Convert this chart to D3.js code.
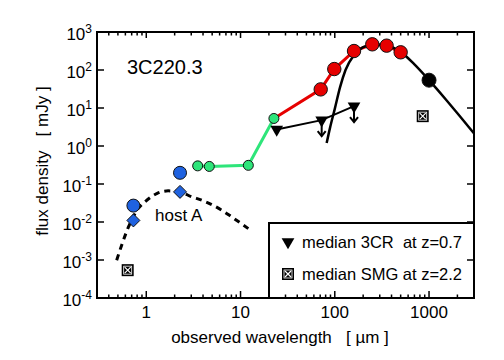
<!DOCTYPE html>
<html>
<head>
<meta charset="utf-8">
<script src="https://cdn.jsdelivr.net/npm/d3@7"></script>
<style>
  body { margin:0; background:#fff; }
  svg { display:block; font-family:"Liberation Sans", Arial, sans-serif; }
</style>
</head>
<body>
<div id="chart"></div>
<script>
// photometry of 3C220.3 (wavelength in um, flux in mJy)
const blueCircX = [0.73, 2.28];
const blueCircY = [0.027, 0.197];
const blueDiaX = [0.73, 2.28];
const blueDiaY = [0.011, 0.062];
const greenX = [3.51, 4.66, 12.1, 22.6];
const greenY = [0.30, 0.29, 0.31, 5.3];
const redX = [22.6, 70.9, 98.8, 160, 250, 355, 500];
const redY = [5.3, 30.9, 106, 316, 474, 437, 292];
const blackX = [1000];
const blackY = [54];
// host A template
const hostX = [0.485, 0.548, 0.644, 0.822, 0.97, 1.29, 1.71, 2.28, 3.03, 3.87, 6.31, 8.06, 12.1];
const hostY = [9.9e-4, 2.45e-3, 7.2e-3, 0.0227, 0.034, 0.056, 0.066, 0.062, 0.046, 0.0375, 0.0205, 0.0136, 6.7e-3];
// dust fit
const dustX = [82, 89, 100, 114, 130, 160, 200, 260, 350, 500, 700, 1000, 1500, 2000, 3000];
const dustY = [1.2, 3.0, 9.5, 36, 100, 250, 400, 470, 440, 300, 140, 54, 17, 7.3, 2.14];
// median 3CR at z=0.7 (upper limits)
const cr3X = [24.2, 72.6, 160];
const cr3Y = [2.73, 4.8, 11.2];
// median SMG at z=2.2
const smgX = [0.635, 857];
const smgY = [5.4e-4, 6.1];

const xTicks = [1, 10, 100, 1000];
const yTickExp = [-4, -3, -2, -1, 0, 1, 2, 3];

const W = 504, H = 360;
const L = 97, R = 474, T = 32, B = 298;

const svg = d3.select("#chart").append("svg")
  .attr("width", W).attr("height", H);

const x = d3.scaleLog().domain([0.3, 3000]).range([L, R]);
const y = d3.scaleLog().domain([1e-4, 1e3]).range([B, T]);

const pts = (xs, ys) => xs.map((v, i) => [x(v), y(ys[i])]);
const line = d3.line().curve(d3.curveMonotoneX);
const straight = d3.line();

// axes: ticks inward on all four sides
const minor = [];
[0.1, 1, 10, 100, 1000].forEach(d => {
  for (let k = 2; k <= 9; k++) { const v = d * k; if (v > 0.3 && v < 3000) minor.push(v); }
});
const ax = svg.append("g").attr("stroke", "#000").attr("stroke-width", 1.5);
minor.forEach(v => {
  ax.append("line").attr("x1", x(v)).attr("x2", x(v)).attr("y1", B).attr("y2", B - 3.5);
  ax.append("line").attr("x1", x(v)).attr("x2", x(v)).attr("y1", T).attr("y2", T + 3.5);
});
xTicks.forEach(v => {
  ax.append("line").attr("x1", x(v)).attr("x2", x(v)).attr("y1", B).attr("y2", B - 7);
  ax.append("line").attr("x1", x(v)).attr("x2", x(v)).attr("y1", T).attr("y2", T + 6);
});
yTickExp.forEach(e => {
  const yy = y(Math.pow(10, e));
  ax.append("line").attr("x1", L).attr("x2", L + 7).attr("y1", yy).attr("y2", yy);
  ax.append("line").attr("x1", R).attr("x2", R - 7).attr("y1", yy).attr("y2", yy);
});

// tick labels
svg.append("g").selectAll("text").data(xTicks).enter().append("text")
  .attr("x", d => x(d)).attr("y", 318)
  .attr("text-anchor", "middle").attr("font-size", 17)
  .text(d => d);

const yl = svg.append("g").selectAll("text").data(yTickExp).enter().append("text")
  .attr("x", 92).attr("y", d => y(Math.pow(10, d)) + 8)
  .attr("text-anchor", "end").attr("font-size", 17);
yl.append("tspan").text("10");
yl.append("tspan").attr("dy", -7).attr("font-size", 12).text(d => d < 0 ? "-" + (-d) : d);

// axis titles
svg.append("text").attr("x", 280).attr("y", 343)
  .attr("text-anchor", "middle").attr("font-size", 17)
  .attr("xml:space", "preserve")
  .text("observed wavelength   [ \u00b5m ]");
svg.append("text")
  .attr("transform", "translate(48,161) rotate(-90)")
  .attr("text-anchor", "middle").attr("font-size", 17)
  .attr("xml:space", "preserve")
  .text("flux density   [ mJy ]");

// connecting lines
svg.append("path").attr("d", straight(pts(greenX, greenY)))
  .attr("fill", "none").attr("stroke", "#2ee57a").attr("stroke-width", 3);
svg.append("path").attr("d", straight(pts(redX, redY)))
  .attr("fill", "none").attr("stroke", "#e60000").attr("stroke-width", 3);

// host A template (dashed)
svg.append("path").attr("d", line(pts(hostX, hostY)))
  .attr("fill", "none").attr("stroke", "#000").attr("stroke-width", 3)
  .attr("stroke-dasharray", "6,5");

// dust curve
svg.append("path").attr("d", line(pts(dustX, dustY)))
  .attr("fill", "none").attr("stroke", "#000").attr("stroke-width", 2.5);

// 3CR median: line + triangles + down arrows
svg.append("path").attr("d", straight(pts(cr3X, cr3Y)))
  .attr("fill", "none").attr("stroke", "#000").attr("stroke-width", 2);
const tri = d3.symbol().type(d3.symbolTriangle).size(70);
const cr3 = pts(cr3X, cr3Y);
cr3.forEach(([px, py], i) => {
  svg.append("path").attr("d", tri())
    .attr("transform", `translate(${px},${py}) rotate(180)`).attr("fill", "#000");
  if (i > 0) {
    svg.append("line").attr("x1", px).attr("x2", px).attr("y1", py).attr("y2", py + 16)
      .attr("stroke", "#000").attr("stroke-width", 2);
    svg.append("path").attr("d", `M${px - 4},${py + 11}L${px},${py + 16}L${px + 4},${py + 11}`)
      .attr("fill", "none").attr("stroke", "#000").attr("stroke-width", 2);
  }
});

// boxed cross marker
function boxX(g, px, py) {
  g.append("rect").attr("x", px - 6).attr("y", py - 6).attr("width", 12).attr("height", 12).attr("fill", "#000");
  g.append("rect").attr("x", px - 4).attr("y", py - 4).attr("width", 8).attr("height", 8)
    .attr("fill", "none").attr("stroke", "#fff").attr("stroke-width", 0.8);
  g.append("path").attr("d", `M${px - 3},${py - 3}L${px + 3},${py + 3}M${px + 3},${py - 3}L${px - 3},${py + 3}`)
    .attr("stroke", "#fff").attr("stroke-width", 1.2);
}
pts(smgX, smgY).forEach(([px, py]) => boxX(svg, px, py));

// data points
function circles(xs, ys, r, fill) {
  svg.append("g").selectAll("circle").data(pts(xs, ys)).enter().append("circle")
    .attr("cx", d => d[0]).attr("cy", d => d[1]).attr("r", r)
    .attr("fill", fill).attr("stroke", "#111").attr("stroke-width", 1);
}
circles(blueCircX, blueCircY, 6.5, "#1f62e0");
svg.append("g").selectAll("path").data(pts(blueDiaX, blueDiaY)).enter().append("path")
  .attr("d", "M0,-6.5L6.5,0L0,6.5L-6.5,0Z")
  .attr("transform", d => `translate(${d[0]},${d[1]})`)
  .attr("fill", "#1f62e0").attr("stroke", "#111").attr("stroke-width", 1);
circles(greenX, greenY, 5, "#2ee57a");
circles(redX.slice(1), redY.slice(1), 6.7, "#e60000");
circles(blackX, blackY, 7, "#000");

// labels
svg.append("text").attr("x", 127).attr("y", 74).attr("font-size", 20).text("3C220.3");
svg.append("text").attr("x", 155).attr("y", 221).attr("font-size", 17).text("host A");

// frame
svg.append("rect").attr("x", L).attr("y", T).attr("width", R - L).attr("height", B - T)
  .attr("fill", "none").attr("stroke", "#000").attr("stroke-width", 2);

// legend
const lg = svg.append("g");
lg.append("rect").attr("x", 269).attr("y", 223).attr("width", R - 269).attr("height", B - 223)
  .attr("fill", "#fff").attr("stroke", "#000").attr("stroke-width", 2);
lg.append("path").attr("d", tri()).attr("transform", "translate(288,242) rotate(180)").attr("fill", "#000");
boxX(lg, 288, 274);
lg.append("text").attr("x", 302).attr("y", 248).attr("font-size", 16.5)
  .attr("xml:space", "preserve").text("median 3CR  at z=0.7");
lg.append("text").attr("x", 302).attr("y", 280).attr("font-size", 16.5)
  .text("median SMG at z=2.2");
// legend covers the bottom axis there, redraw its ticks on top
minor.filter(v => x(v) > 269).forEach(v =>
  lg.append("line").attr("x1", x(v)).attr("x2", x(v)).attr("y1", B).attr("y2", B - 3.5)
    .attr("stroke", "#000").attr("stroke-width", 1.5));
xTicks.filter(v => x(v) > 269).forEach(v =>
  lg.append("line").attr("x1", x(v)).attr("x2", x(v)).attr("y1", B).attr("y2", B - 7)
    .attr("stroke", "#000").attr("stroke-width", 1.5));
lg.append("line").attr("x1", R).attr("x2", R - 7).attr("y1", y(1e-3)).attr("y2", y(1e-3))
  .attr("stroke", "#000").attr("stroke-width", 1.5);
</script>
</body>
</html>
